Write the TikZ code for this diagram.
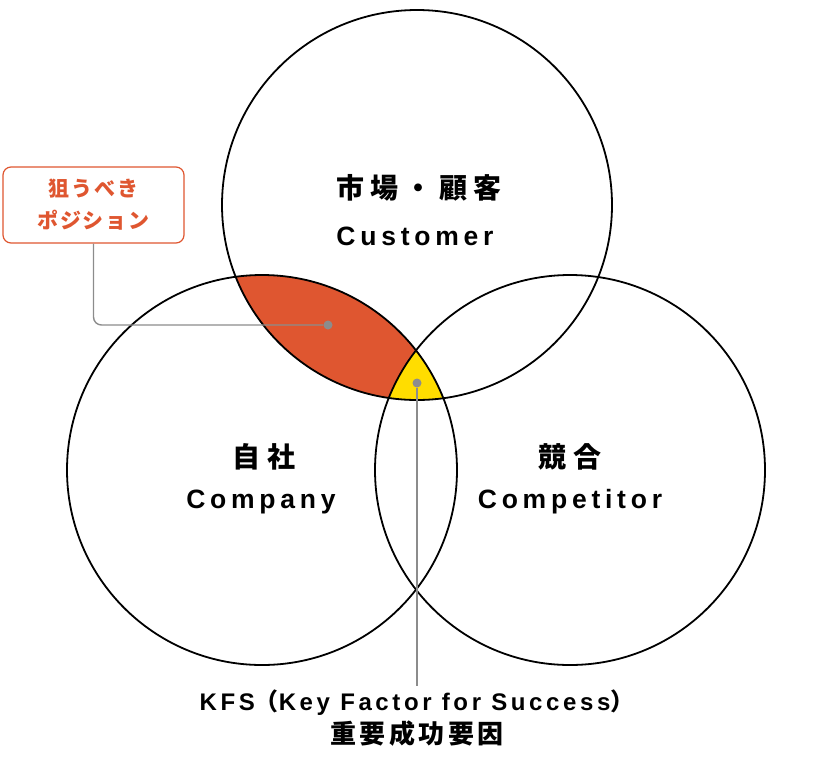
\documentclass[tikz,border=0pt]{standalone}
\usepackage{fontspec}
\setmainfont{Liberation Sans}
\newfontfamily\jpfont{Noto Sans CJK JP}[LetterSpace=22]
\newfontfamily\jpnote{Noto Sans CJK JP}[LetterSpace=8]
\newfontfamily\jpkfs{Noto Sans CJK JP}[LetterSpace=13]
\newfontfamily\enfont{Liberation Sans}[LetterSpace=18]
\newfontfamily\ennote{Liberation Sans}[LetterSpace=15]
\definecolor{posred}{HTML}{DF5630}
\definecolor{kfsyellow}{HTML}{FFDD00}
\definecolor{leadgray}{HTML}{8C8C8C}

\begin{document}
\begin{tikzpicture}[x=1pt, y=-1pt,
    ring/.style={circle, draw, line width=1.8pt, minimum size=390pt, inner sep=0pt},
    jplabel/.style={font=\fontsize{28pt}{32pt}\selectfont\bfseries\jpfont},
    enlabel/.style={font=\fontsize{26.5pt}{30pt}\selectfont\bfseries\enfont},
    lead/.style={draw=leadgray, line width=1.4pt},
    pin/.style={circle, fill=leadgray, inner sep=0pt, minimum size=9pt}]
    \useasboundingbox (0,0) rectangle (840,761);

    % Fill the overlaps: target position and KFS
    \begin{scope}
        \clip (417,205) circle (195pt);
        \fill[posred] (262,470) circle (195pt);
        \clip (262,470) circle (195pt);
        \fill[kfsyellow] (570,470) circle (195pt);
    \end{scope}

    % Draw the three circles
    \node[ring] (customer) at (417,205) {};
    \node[ring] (company) at (262,470) {};
    \node[ring] (competitor) at (570,470) {};

    % Circle labels
    \node[jplabel] (customer-jp) at (419,188) {市場・顧客};
    \node[enlabel] (customer-en) at (415,236) {Customer};
    \node[jplabel] (company-jp) at (264,457) {自社};
    \node[enlabel] (company-en) at (261,502) {Company};
    \node[jplabel] (competitor-jp) at (570,457) {競合};
    \node[enlabel] (competitor-en) at (570,502) {Competitor};

    % Callout box for the target position
    \node[draw=posred, line width=1.2pt, rounded corners=8pt, minimum width=181pt, minimum height=76pt,
        align=center, text=posred, font=\fontsize{21pt}{32pt}\selectfont\bfseries\jpnote] (position) at (93.5,205) {狙うべき\\ポジション};

    % KFS label
    \node[align=center, font=\fontsize{24pt}{33pt}\selectfont\bfseries] (kfs) at (417,718)
        {{\ennote KFS{\jpkfs （}Key Factor for Success{\jpkfs ）}}\\{\fontsize{26pt}{33pt}\selectfont\jpkfs 重要成功要因}};

    % Leader lines with their dots
    \node[pin] (posdot) at (328,325) {};
    \node[pin] (kfsdot) at (417,383) {};
    \draw[lead, rounded corners=8pt] (position.south) |- (posdot);
    \draw[lead] (kfsdot) -- (kfs.north);
\end{tikzpicture}
\end{document}
